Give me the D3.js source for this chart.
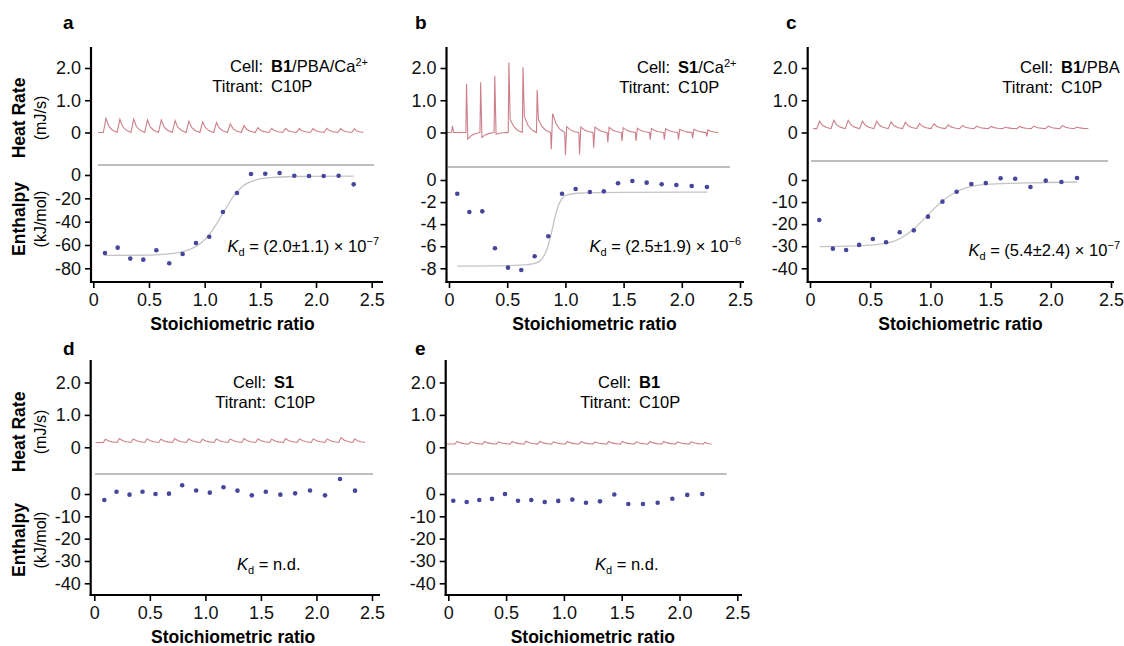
<!DOCTYPE html>
<html>
<head>
<meta charset="utf-8">
<script src="https://cdn.jsdelivr.net/npm/d3@7"></script>
<style>
body { margin: 0; background: #fff; }
svg { font-family: "Liberation Sans", Arial, Helvetica, sans-serif; }
</style>
</head>
<body>
<svg id="fig" width="1124" height="646"></svg>
<script>
// ---- data ----
// panel a  (cell B1/PBA/Ca2+)
var ratioA = [0.105, 0.219, 0.332, 0.449, 0.566, 0.682, 0.802, 0.922, 1.041, 1.164, 1.290, 1.416, 1.544, 1.673, 1.805, 1.937, 2.069, 2.203, 2.338];
var enthA = [-66.9, -62.3, -71.7, -72.6, -64.5, -75.7, -67.7, -58.3, -52.9, -31.7, -15.4, 0.9, 1.1, 1.7, -0.6, -0.9, -0.9, -0.6, -8.0];
var fitRatioA = [0.1, 0.4, 0.6, 0.75, 0.85, 0.95, 1.0, 1.05, 1.1, 1.15, 1.2, 1.25, 1.3, 1.35, 1.45, 1.6, 1.8, 2.0, 2.34];
var fitA = [-69, -68.8, -68.2, -66.8, -64.5, -59.5, -55.5, -50, -43, -35, -27, -19.5, -13.5, -9, -4.5, -2.2, -1.3, -1.1, -1.0];
var heatPeakA = [0.44, 0.41, 0.41, 0.39, 0.39, 0.37, 0.35, 0.33, 0.31, 0.27, 0.21, 0.15, 0.13, 0.12, 0.12, 0.12, 0.13, 0.12, 0.12];

// panel b  (cell S1/Ca2+)
var ratioB = [0.071, 0.175, 0.286, 0.395, 0.507, 0.621, 0.736, 0.853, 0.971, 1.088, 1.21, 1.33, 1.452, 1.575, 1.698, 1.827, 1.953, 2.085, 2.216];
var enthB = [-1.24, -2.9, -2.84, -6.19, -7.94, -8.15, -6.91, -5.1, -1.24, -0.82, -1.09, -1.03, -0.3, -0.09, -0.24, -0.39, -0.45, -0.54, -0.63];
var fitRatioB = [0.07, 0.4, 0.6, 0.72, 0.78, 0.82, 0.85, 0.88, 0.91, 0.94, 0.97, 1.0, 1.1, 1.5, 2.22];
var fitB = [-7.8, -7.78, -7.72, -7.6, -7.35, -6.8, -6.0, -4.8, -3.4, -2.3, -1.7, -1.4, -1.2, -1.12, -1.1];
var heatPeakB = [0.2, 1.5, 1.56, 1.76, 2.17, 2.02, 1.32, -0.52, -0.7, -0.68, -0.47, -0.3, -0.26, -0.26, -0.22, -0.22, -0.22, -0.18, -0.12];
var heatAfterB = [0.0, -0.2, -0.15, -0.05, 0.4, 0.5, 0.4, 0.58, 0.18, 0.17, 0.17, 0.16, 0.15, 0.13, 0.12, 0.12, 0.1, 0.1, 0.08];

// panel c  (cell B1/PBA)
var ratioC = [0.077, 0.19, 0.30, 0.408, 0.522, 0.632, 0.745, 0.862, 0.98, 1.10, 1.218, 1.34, 1.46, 1.583, 1.704, 1.831, 1.958, 2.088, 2.218];
var enthC = [-18.1, -31.1, -31.7, -29.4, -26.7, -28.2, -23.7, -22.8, -16.6, -9.8, -5.3, -1.8, -1.4, 0.8, 0.6, -3.2, -0.3, -0.9, 0.9];
var fitRatioC = [0.08, 0.3, 0.5, 0.65, 0.75, 0.85, 0.95, 1.05, 1.15, 1.25, 1.35, 1.5, 1.8, 2.22];
var fitC = [-30.2, -30, -29.5, -28.5, -26.5, -22.8, -17.5, -12, -7.5, -4.5, -2.8, -1.9, -1.3, -0.9];
var heatPeakC = [0.35, 0.38, 0.38, 0.35, 0.35, 0.33, 0.32, 0.28, 0.27, 0.24, 0.22, 0.2, 0.19, 0.17, 0.19, 0.2, 0.2, 0.22, 0.17];

// panel d  (cell S1)
var ratioD = [0.09, 0.20, 0.317, 0.434, 0.551, 0.672, 0.791, 0.917, 1.04, 1.163, 1.289, 1.418, 1.544, 1.675, 1.808, 1.942, 2.077, 2.212, 2.347];
var enthD = [-2.7, 1.0, -0.3, 1.0, 0, 0.15, 3.9, 1.6, 0.6, 3.0, 1.5, -0.6, 1.0, -0.3, 0.3, 1.6, -0.6, 6.7, 1.5];
var heatPeakD = [0.25, 0.27, 0.26, 0.26, 0.25, 0.27, 0.26, 0.25, 0.26, 0.26, 0.27, 0.26, 0.25, 0.27, 0.26, 0.26, 0.26, 0.3, 0.26];

// panel e  (cell B1)
var ratioE = [0.043, 0.159, 0.268, 0.378, 0.49, 0.603, 0.718, 0.834, 0.951, 1.073, 1.191, 1.312, 1.436, 1.557, 1.684, 1.811, 1.938, 2.067, 2.197];
var enthE = [-3.0, -3.6, -2.7, -2.2, 0, -3.0, -2.7, -3.6, -3.1, -2.5, -3.9, -3.3, -0.2, -4.5, -4.5, -3.9, -2.1, -0.4, 0];
var heatPeakE = [0.18, 0.17, 0.18, 0.17, 0.18, 0.19, 0.18, 0.17, 0.18, 0.18, 0.17, 0.18, 0.18, 0.17, 0.18, 0.18, 0.17, 0.17, 0.16];

var xTicks = [0, 0.5, 1.0, 1.5, 2.0, 2.5];
var heatTicks = [0, 1.0, 2.0];
var enthTicksA = [0, -20, -40, -60, -80];
var enthTicksB = [0, -2, -4, -6, -8];
var enthTicksC = [0, -10, -20, -30, -40];

// ---- layout of the five panels ----
var panels = [
	{letter: "a", lx: 63, ly: 29, axisX: 91, top: 47, bottom: 282, xEnd: 383, xr: [93.3, 371.7],
	 h0: 132.5, h2: 68, sepY: 165, sep: [98, 374], e0: 175, eMin: 268.3, eTicks: enthTicksA,
	 ratio: ratioA, enth: enthA, fitR: fitRatioA, fit: fitA,
	 heat: {peaks: heatPeakA, base: 0, first: 103.3, last: 351.7, start: 98.3, end: 363.3, rise: 0.2},
	 cell: {colon: 263, y: 72, bold: "B1", rest: "/PBA/Ca", sup: "2+"},
	 kd: {x: 379, y: 252, anchor: "end", val: " = (2.0\u00b11.1) \u00d7 10", sup: "\u22127"},
	 labels: {heat: 118, enth: 219}},
	{letter: "b", lx: 415, ly: 29, axisX: 446.5, top: 47, bottom: 282, xEnd: 744, xr: [449, 740],
	 h0: 132.5, h2: 68, sepY: 167, sep: [448, 730], e0: 180, eMin: 268.3, eTicks: enthTicksB,
	 ratio: ratioB, enth: enthB, fitR: fitRatioB, fit: fitB,
	 heat: {peaks: heatPeakB, after: heatAfterB, base: 0, first: 451.7, last: 706, start: 446.7, end: 718.3, rise: 0.05},
	 cell: {colon: 670, y: 73, bold: "S1", rest: "/Ca", sup: "2+"},
	 kd: {x: 741, y: 252, anchor: "end", val: " = (2.5\u00b11.9) \u00d7 10", sup: "\u22126"}},
	{letter: "c", lx: 786, ly: 29, axisX: 807.7, top: 47, bottom: 282, xEnd: 1114, xr: [810, 1111],
	 h0: 132.5, h2: 68, sepY: 161, sep: [811, 1108], e0: 180, eMin: 268.3, eTicks: enthTicksC,
	 ratio: ratioC, enth: enthC, fitR: fitRatioC, fit: fitC,
	 heat: {peaks: heatPeakC, base: 0.12, first: 816.7, last: 1074, start: 813.3, end: 1088.3, rise: 0.2},
	 cell: {colon: 1053, y: 73, bold: "B1", rest: "/PBA", sup: ""},
	 kd: {x: 1120, y: 256, anchor: "end", val: " = (5.4\u00b12.4) \u00d7 10", sup: "\u22127"}},
	{letter: "d", lx: 63, ly: 355, axisX: 90.7, top: 360, bottom: 595, xEnd: 380, xr: [94.3, 372],
	 h0: 447.3, h2: 382.5, sepY: 474, sep: [95, 373], e0: 494, eMin: 583.3, eTicks: enthTicksC,
	 ratio: ratioD, enth: enthD,
	 heat: {peaks: heatPeakD, base: 0.15, first: 103.3, last: 352.7, start: 95.7, end: 365, rise: 0.15},
	 cell: {colon: 266, y: 388, bold: "S1", rest: "", sup: ""},
	 kd: {x: 237, y: 570, anchor: "start", val: " = n.d.", sup: ""},
	 labels: {heat: 432, enth: 540}},
	{letter: "e", lx: 415, ly: 355, axisX: 445.7, top: 360, bottom: 595, xEnd: 742, xr: [448.3, 737.3],
	 h0: 447.3, h2: 382.5, sepY: 474, sep: [446.7, 726.7], e0: 494, eMin: 583.3, eTicks: enthTicksC,
	 ratio: ratioE, enth: enthE,
	 heat: {peaks: heatPeakE, base: 0.1, first: 455, last: 703, start: 446.7, end: 711.7, rise: 0.15},
	 cell: {colon: 631, y: 388, bold: "B1", rest: "", sup: ""},
	 kd: {x: 595, y: 570, anchor: "start", val: " = n.d.", sup: ""}}
];

var svg = d3.select("#fig");
var traceColor = "#cd7f88";
var dotColor = "#46469a";
var cellSize = 16.5;

panels.forEach(function(p) {
	var g = svg.append("g");
	var x = d3.scaleLinear().domain([0, 2.5]).range(p.xr);
	var yH = d3.scaleLinear().domain([0, 2]).range([p.h0, p.h2]);
	var eMinVal = p.eTicks[p.eTicks.length - 1];
	var yE = d3.scaleLinear().domain([0, eMinVal]).range([p.e0, p.eMin]);

	// panel letter
	g.append("text").attr("x", p.lx).attr("y", p.ly)
		.attr("font-size", 19).attr("font-weight", "bold").text(p.letter);

	// thermogram
	var hp = p.heat;
	var n = hp.peaks.length;
	var t = d3.scaleLinear().domain([0, n - 1]).range([hp.first, hp.last]);
	var pts = [[t.invert(hp.start), hp.base]];
	hp.peaks.forEach(function(pk, i) {
		var stop = i < n - 1 ? i + 1 : t.invert(hp.end);
		var span = stop - i;
		var b = hp.base;
		pts.push([i, b], [i + hp.rise, pk]);
		var af = pk;
		if (hp.after) {
			af = hp.after[i];
			pts.push([i + hp.rise + 0.09, af]);
		}
		pts.push([i + span * 0.4, b + (af - b) * 0.45]);
		pts.push([i + span * 0.65, b + (af - b) * 0.18]);
		pts.push([i + span * 0.9, b + (af - b) * 0.05]);
	});
	pts.push([t.invert(hp.end), hp.base]);
	g.append("path")
		.attr("d", d3.line().x(function(d){ return t(d[0]); }).y(function(d){ return yH(d[1]); })(pts))
		.attr("fill", "none").attr("stroke", traceColor).attr("stroke-width", 1.1);

	// separator between the two parts
	g.append("line").attr("x1", p.sep[0]).attr("x2", p.sep[1])
		.attr("y1", p.sepY).attr("y2", p.sepY)
		.attr("stroke", "#a8a8a8").attr("stroke-width", 1.3);

	// fit curve
	if (p.fit) {
		var fitPts = p.fitR.map(function(r, i){ return [r, p.fit[i]]; });
		g.append("path")
			.attr("d", d3.line().curve(d3.curveMonotoneX)
				.x(function(d){ return x(d[0]); }).y(function(d){ return yE(d[1]); })(fitPts))
			.attr("fill", "none").attr("stroke", "#c4c4c4").attr("stroke-width", 1.3);
	}

	// data points
	g.selectAll("circle.pt").data(p.ratio).enter().append("circle")
		.attr("cx", function(d){ return x(d); })
		.attr("cy", function(d, i){ return yE(p.enth[i]); })
		.attr("r", 2.3).attr("fill", dotColor);

	// axes
	var axH = g.append("g").attr("transform", "translate(" + p.axisX + ",0)")
		.call(d3.axisLeft(yH).tickValues(heatTicks).tickSize(6).tickPadding(4)
			.tickFormat(function(d){ return d === 0 ? "0" : d3.format(".1f")(d); }));
	var axE = g.append("g").attr("transform", "translate(" + p.axisX + ",0)")
		.call(d3.axisLeft(yE).tickValues(p.eTicks).tickSize(6).tickPadding(4)
			.tickFormat(function(d){ return d === 0 ? "0" : "-" + Math.abs(d); }));
	var axX = g.append("g").attr("transform", "translate(0," + p.bottom + ")")
		.call(d3.axisBottom(x).tickValues(xTicks).tickSize(6).tickPadding(5)
			.tickFormat(function(d){ return d === 0 ? "0" : d3.format(".1f")(d); }));
	[axH, axE, axX].forEach(function(a) {
		a.select(".domain").remove();
		a.selectAll("line").attr("stroke", "#000").attr("stroke-width", 1.6);
		a.selectAll("text").attr("font-size", 18).attr("fill", "#111")
			.attr("font-family", "'Liberation Sans', Arial, sans-serif");
	});
	g.append("line").attr("x1", p.axisX).attr("x2", p.axisX)
		.attr("y1", p.top).attr("y2", p.bottom + 1)
		.attr("stroke", "#000").attr("stroke-width", 2.2);
	g.append("line").attr("x1", p.axisX - 1).attr("x2", p.xEnd)
		.attr("y1", p.bottom).attr("y2", p.bottom)
		.attr("stroke", "#000").attr("stroke-width", 2.2);

	g.append("text").attr("x", (p.xr[0] + p.xr[1]) / 2).attr("y", p.bottom + 48)
		.attr("text-anchor", "middle").attr("font-size", 17.5).attr("font-weight", "bold")
		.text("Stoichiometric ratio");

	// cell / titrant text
	var c = p.cell;
	g.append("text").attr("x", c.colon).attr("y", c.y).attr("text-anchor", "end")
		.attr("font-size", cellSize).text("Cell:");
	g.append("text").attr("x", c.colon).attr("y", c.y + 20).attr("text-anchor", "end")
		.attr("font-size", cellSize).text("Titrant:");
	var cv = g.append("text").attr("x", c.colon + 8).attr("y", c.y).attr("font-size", cellSize);
	cv.append("tspan").attr("font-weight", "bold").text(c.bold);
	if (c.rest) cv.append("tspan").text(c.rest);
	if (c.sup) cv.append("tspan").attr("font-size", 11).attr("dy", -6).text(c.sup);
	g.append("text").attr("x", c.colon + 8).attr("y", c.y + 20).attr("font-size", cellSize).text("C10P");

	// dissociation constant
	var kd = g.append("text").attr("x", p.kd.x).attr("y", p.kd.y)
		.attr("text-anchor", p.kd.anchor).attr("font-size", 16.5);
	kd.append("tspan").attr("font-style", "italic").text("K");
	kd.append("tspan").attr("font-size", 11).attr("dy", 4).text("d");
	kd.append("tspan").attr("dy", -4).text(p.kd.val);
	if (p.kd.sup) kd.append("tspan").attr("font-size", 11).attr("dy", -7).text(p.kd.sup);

	// y axis titles (left column only)
	if (p.labels) {
		[[p.labels.heat, "Heat Rate", "(mJ/s)"], [p.labels.enth, "Enthalpy", "(kJ/mol)"]].forEach(function(l) {
			g.append("text").attr("transform", "translate(25," + l[0] + ") rotate(-90)")
				.attr("text-anchor", "middle").attr("font-size", 17.5).attr("font-weight", "bold").text(l[1]);
			g.append("text").attr("transform", "translate(46," + l[0] + ") rotate(-90)")
				.attr("text-anchor", "middle").attr("font-size", 16).text(l[2]);
		});
	}
});
</script>
</body>
</html>
